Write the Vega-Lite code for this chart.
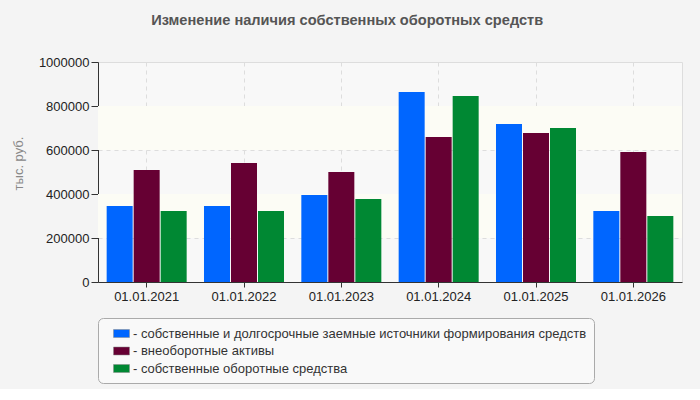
{
  "$schema": "https://vega.github.io/schema/vega-lite/v6.json",
  "width": 584,
  "height": 220,
  "padding": {"left": 12, "top": 13, "right": 19, "bottom": 5},
  "background": "#f4f4f4",
  "config": {
    "font": "Liberation Sans",
    "view": {"fill": "#f8f8f8", "stroke": "#dddddd"}
  },
  "title": {
    "text": "Изменение наличия собственных оборотных средств",
    "fontSize": 14.6,
    "fontWeight": "bold",
    "color": "#555555",
    "anchor": "middle",
    "frame": "bounds",
    "offset": 28
  },
  "layer": [
    {
      "data": {"values": [
        {"from": 200000, "to": 400000},
        {"from": 600000, "to": 800000}
      ]},
      "mark": {"type": "rect", "color": "#fcfcf5"},
      "encoding": {
        "y": {"field": "from", "type": "quantitative"},
        "y2": {"field": "to"}
      }
    },
    {
      "data": {"values": [
        {"date": "01.01.2021", "series": "собственные и долгосрочные заемные источники формирования средств", "value": 345000},
        {"date": "01.01.2021", "series": "внеоборотные активы", "value": 509000},
        {"date": "01.01.2021", "series": "собственные оборотные средства", "value": 323000},
        {"date": "01.01.2022", "series": "собственные и долгосрочные заемные источники формирования средств", "value": 345000},
        {"date": "01.01.2022", "series": "внеоборотные активы", "value": 541000},
        {"date": "01.01.2022", "series": "собственные оборотные средства", "value": 323000},
        {"date": "01.01.2023", "series": "собственные и долгосрочные заемные источники формирования средств", "value": 395000},
        {"date": "01.01.2023", "series": "внеоборотные активы", "value": 500000},
        {"date": "01.01.2023", "series": "собственные оборотные средства", "value": 377000},
        {"date": "01.01.2024", "series": "собственные и долгосрочные заемные источники формирования средств", "value": 864000},
        {"date": "01.01.2024", "series": "внеоборотные активы", "value": 659000},
        {"date": "01.01.2024", "series": "собственные оборотные средства", "value": 845000},
        {"date": "01.01.2025", "series": "собственные и долгосрочные заемные источники формирования средств", "value": 718000},
        {"date": "01.01.2025", "series": "внеоборотные активы", "value": 677000},
        {"date": "01.01.2025", "series": "собственные оборотные средства", "value": 700000},
        {"date": "01.01.2026", "series": "собственные и долгосрочные заемные источники формирования средств", "value": 323000},
        {"date": "01.01.2026", "series": "внеоборотные активы", "value": 591000},
        {"date": "01.01.2026", "series": "собственные оборотные средства", "value": 300000}
      ]},
      "mark": {"type": "bar"},
      "encoding": {
        "x": {
          "field": "date", "type": "nominal",
          "scale": {"paddingInner": 0.178, "paddingOuter": 0.089},
          "axis": {
            "title": null, "labelAngle": 0, "labelFontSize": 13, "labelColor": "#222222",
            "tickSize": 5, "tickColor": "#333333", "domainColor": "#333333",
            "grid": true, "gridColor": "#dddddd", "gridDash": [4, 4], "labelPadding": 3
          }
        },
        "xOffset": {
          "field": "series", "type": "nominal",
          "scale": {"paddingInner": 0.037, "paddingOuter": 0,
            "domain": ["собственные и долгосрочные заемные источники формирования средств", "внеоборотные активы", "собственные оборотные средства"]}
        },
        "y": {
          "field": "value", "type": "quantitative",
          "scale": {"domain": [0, 1000000], "nice": false},
          "axis": {
            "title": "тыс. руб.", "titleFontSize": 13, "titleColor": "#888888", "titleFontWeight": "normal",
            "titlePadding": 13, "titleY": 101,
            "values": [0, 200000, 400000, 600000, 800000, 1000000],
            "labelFontSize": 13, "labelColor": "#222222", "tickSize": 7, "labelPadding": 2,
            "tickColor": "#333333", "domainColor": "#333333",
            "gridColor": "#dddddd", "gridDash": [4, 4], "format": "d"
          }
        },
        "color": {
          "field": "series", "type": "nominal",
          "scale": {
            "domain": ["собственные и долгосрочные заемные источники формирования средств", "внеоборотные активы", "собственные оборотные средства"],
            "range": ["#0066ff", "#660033", "#008833"]
          },
          "legend": {
            "title": null, "orient": "bottom", "direction": "vertical",
            "labelExpr": "'- ' + datum.label", "labelFontSize": 13, "labelColor": "#333333",
            "labelOffset": 3, "labelLimit": 700,
            "symbolType": "M-1,-0.5H1V0.5H-1Z", "symbolSize": 256, "symbolStrokeColor": "#888888", "symbolStrokeWidth": 0.5,
            "symbolOffset": 8,
            "fillColor": "#f9f9f9", "strokeColor": "#aaaaaa", "cornerRadius": 5,
            "padding": 7, "rowPadding": 1.5, "offset": 15
          }
        }
      }
    }
  ]
}
